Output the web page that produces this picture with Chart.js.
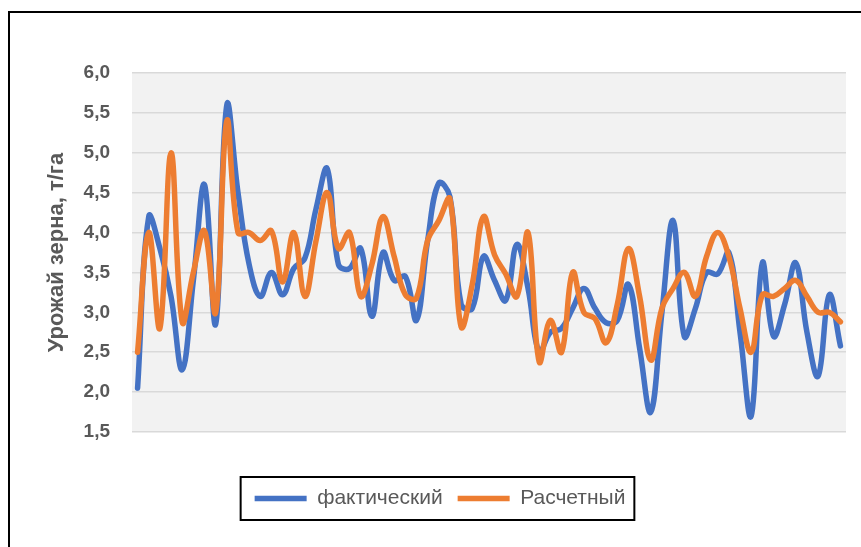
<!DOCTYPE html>
<html>
<head>
<meta charset="utf-8">
<script src="https://cdn.jsdelivr.net/npm/chart.js@4/dist/chart.umd.min.js"></script>
<style>
  html, body { margin: 0; padding: 0; background: #fff; }
  #wrap { position: relative; width: 861px; height: 547px; overflow: hidden; }
  #frame { position: absolute; left: 8px; top: 11px; width: 900px; height: 600px;
           border-left: 2px solid #000; border-top: 2px solid #000; pointer-events: none; }
  canvas { position: absolute; left: 0; top: 0; }
</style>
</head>
<body>
<div id="wrap">
  <canvas id="chart" width="861" height="547"></canvas>
  <div id="frame"></div>
</div>
<script>
const categories = [
  1, 2, 3, 4, 5, 6, 7, 8, 9, 10, 11, 12, 13, 14, 15, 16,
  17, 18, 19, 20, 21, 22, 23, 24, 25, 26, 27, 28, 29, 30, 31, 32,
  33, 34, 35, 36, 37, 38, 39, 40, 41, 42, 43, 44, 45, 46, 47, 48,
  49, 50, 51, 52, 53, 54, 55, 56, 57, 58, 59, 60, 61, 62, 63, 64
];

// фактический
const actual = [
  2.05, 4.2, 3.8, 3.2, 2.28, 3.4, 4.6, 2.85, 5.6, 4.5, 3.6, 3.2, 3.5, 3.22, 3.55, 3.68,
  4.3, 4.8, 3.6, 3.55, 3.8, 2.95, 3.75, 3.4, 3.45, 2.9, 3.9, 4.62, 4.45, 3.1, 3.05, 3.7,
  3.4, 3.15, 3.85, 3.3, 2.5, 2.75, 2.8, 3.05, 3.3, 3.05, 2.87, 2.9, 3.35, 2.55, 1.75, 3.0,
  4.15, 2.7, 3.05, 3.5, 3.48, 3.75, 2.75, 1.7, 3.62, 2.7, 3.1, 3.62, 2.75, 2.2, 3.22, 2.58
];

// Расчетный
const estimated = [
  2.5, 4.0, 2.8, 5.0, 2.88, 3.5, 4.02, 3.0, 5.4, 4.0, 4.0, 3.9, 4.02, 3.38, 4.0, 3.2,
  3.9, 4.5, 3.8, 4.0, 3.2, 3.6, 4.2, 3.7, 3.22, 3.18, 3.9, 4.15, 4.42, 2.82, 3.35, 4.2,
  3.72, 3.48, 3.2, 4.0, 2.38, 2.9, 2.5, 3.5, 3.0, 2.92, 2.62, 3.1, 3.8, 3.2, 2.4, 3.05,
  3.3, 3.5, 3.2, 3.7, 4.0, 3.7, 3.05, 2.5, 3.22, 3.2, 3.3, 3.4, 3.2, 3.0, 3.0, 2.88
];

const yTickLabels = ['1,5', '2,0', '2,5', '3,0', '3,5', '4,0', '4,5', '5,0', '5,5', '6,0'];

const textGrey = '#595959';

// grey plot area like the spreadsheet chart
const plotBackground = {
  id: 'plotBackground',
  beforeDraw(chart) {
    const { ctx, chartArea: a } = chart;
    ctx.save();
    ctx.fillStyle = '#f2f2f2';
    ctx.fillRect(a.left, a.top, a.right - a.left, a.bottom - a.top);
    ctx.restore();
  }
};

// black box round the legend
const legendFrame = {
  id: 'legendFrame',
  afterDraw(chart) {
    const lg = chart.legend;
    const boxes = lg && lg.legendHitBoxes;
    if (!boxes || !boxes.length) return;
    const first = boxes[0];
    const last = boxes[boxes.length - 1];
    const left = first.left - 14;
    const right = last.left + last.width + 9;
    const top = lg.top + 4;
    const ctx = chart.ctx;
    ctx.save();
    ctx.strokeStyle = '#000';
    ctx.lineWidth = 2;
    ctx.strokeRect(left, top, right - left, 43);
    ctx.restore();
  }
};

new Chart(document.getElementById('chart'), {
  type: 'line',
  data: {
    labels: categories,
    datasets: [{
      label: 'фактический',
      data: actual,
      borderColor: '#4472c4',
      backgroundColor: '#4472c4',
      borderWidth: 5.5,
      borderCapStyle: 'round',
      borderJoinStyle: 'round',
      pointRadius: 0,
      tension: 0.4,
      order: 1
    }, {
      label: 'Расчетный',
      data: estimated,
      borderColor: '#ed7d31',
      backgroundColor: '#ed7d31',
      borderWidth: 5.5,
      borderCapStyle: 'round',
      borderJoinStyle: 'round',
      pointRadius: 0,
      tension: 0.4,
      order: 0
    }]
  },
  options: {
    responsive: false,
    animation: false,
    layout: { padding: { left: 34, right: 15, top: 73, bottom: 28 } },
    scales: {
      x: {
        type: 'category',
        offset: true,
        grid: { display: false },
        border: { display: false },
        ticks: { display: false },
        afterFit(scale) { scale.height = 41; }
      },
      y: {
        min: 1.5,
        max: 6,
        ticks: {
          stepSize: 0.5,
          padding: 22,
          color: textGrey,
          font: { family: 'Liberation Sans', size: 19, weight: 'bold' },
          callback: (value, index) => yTickLabels[index]
        },
        grid: { color: '#d9d9d9', lineWidth: 1.5, drawTicks: false },
        border: { display: false },
        title: {
          display: true,
          text: 'Урожай зерна, т/га',
          color: textGrey,
          font: { family: 'Liberation Sans', size: 22, weight: 'bold' },
          padding: { top: 10, bottom: 0 }
        },
        afterFit(scale) { scale.width = 98; }
      }
    },
    plugins: {
      legend: {
        position: 'bottom',
        labels: {
          color: textGrey,
          font: { family: 'Liberation Sans', size: 21 },
          usePointStyle: true,
          pointStyle: 'line',
          pointStyleWidth: 52,
          padding: 15,
          sort: (a, b) => a.datasetIndex - b.datasetIndex
        }
      },
      tooltip: { enabled: false }
    }
  },
  plugins: [plotBackground, legendFrame]
});
</script>
</body>
</html>
